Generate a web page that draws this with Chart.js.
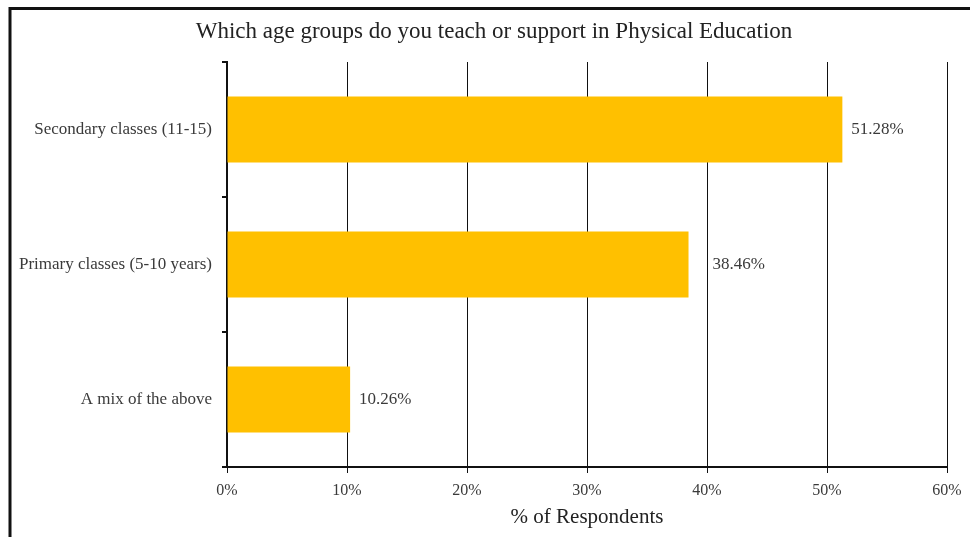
<!DOCTYPE html>
<html>
<head>
<meta charset="utf-8">
<script src="https://cdn.jsdelivr.net/npm/chart.js@4"></script>
<style>
  html, body { margin: 0; padding: 0; background: #fff; }
  #wrap { width: 970px; height: 537px; position: relative; }
</style>
</head>
<body>
<div id="wrap"><canvas id="ageChart"></canvas></div>
<script>
var categories = ['Secondary classes (11-15)', 'Primary classes (5-10 years)', 'A mix of the above'];
var shares = [51.28, 38.46, 10.26];
var xTicks = [0, 10, 20, 30, 40, 50, 60];
var chartTitle = 'Which age groups do you teach or support in Physical Education';

var serif = "'Liberation Serif', 'DejaVu Serif', serif";
var textColor = '#3a3a3a';
// gap between bar end and its label (middle one sits clear of the 40% line)
var labelGap = [9, 24, 9];

// frame round the picture (top and left edges only show) + title
var framePlugin = {
    id: 'frame',
    afterDraw: function(chart){
        var ctx = chart.ctx;
        ctx.save();
        ctx.strokeStyle = '#111';
        ctx.lineWidth = 3;
        ctx.beginPath();
        ctx.moveTo(10, 537);
        ctx.lineTo(10, 8.5);
        ctx.lineTo(970, 8.5);
        ctx.stroke();
        ctx.font = '23px ' + serif;
        ctx.fillStyle = '#222';
        ctx.textAlign = 'center';
        ctx.textBaseline = 'middle';
        ctx.fillText(chartTitle, 494, 32);
        ctx.restore();
    }
};

// value labels right of each bar
var valueLabels = {
    id: 'valueLabels',
    afterDatasetsDraw: function(chart){
        var ctx = chart.ctx;
        var meta = chart.getDatasetMeta(0);
        ctx.save();
        ctx.font = '17px ' + serif;
        ctx.fillStyle = textColor;
        ctx.textAlign = 'left';
        ctx.textBaseline = 'middle';
        meta.data.forEach(function(bar, i){
            ctx.fillText(shares[i].toFixed(2) + '%', bar.x + labelGap[i], bar.y);
        });
        ctx.restore();
    }
};

new Chart(document.getElementById('ageChart'), {
    type: 'bar',
    data: {
        labels: categories,
        datasets: [{
            label: '% of Respondents',
            data: shares,
            backgroundColor: '#FFC000',
            borderWidth: 0,
            categoryPercentage: 0.49,
            barPercentage: 1
        }]
    },
    options: {
        indexAxis: 'y',
        responsive: true,
        maintainAspectRatio: false,
        animation: false,
        layout: { padding: { left: 0, right: 23, top: 62, bottom: 0 } },
        plugins: {
            legend: { display: false },
            tooltip: { enabled: false },
            title: { display: false }
        },
        scales: {
            x: {
                min: 0,
                max: 60,
                afterBuildTicks: function(scale){
                    scale.ticks = xTicks.map(function(v){ return { value: v }; });
                },
                afterFit: function(scale){ scale.height = 70; },
                grid: {
                    color: '#111',
                    lineWidth: 1,
                    drawTicks: true,
                    tickLength: 6
                },
                border: { display: true, color: '#111', width: 2 },
                ticks: {
                    color: textColor,
                    padding: 8,
                    font: { family: serif, size: 16 },
                    callback: function(v){ return v + '%'; }
                },
                title: {
                    display: true,
                    text: '% of Respondents',
                    color: '#222',
                    font: { family: serif, size: 21 },
                    padding: { top: 0, bottom: 7 }
                }
            },
            y: {
                afterFit: function(scale){ scale.width = 227; },
                grid: {
                    offset: true,
                    drawOnChartArea: false,
                    drawTicks: true,
                    tickLength: 5,
                    color: '#111',
                    lineWidth: 2
                },
                border: { display: true, color: '#111', width: 2 },
                ticks: {
                    color: textColor,
                    padding: 10,
                    font: { family: serif, size: 17 }
                }
            }
        }
    },
    plugins: [framePlugin, valueLabels]
});
</script>
</body>
</html>
